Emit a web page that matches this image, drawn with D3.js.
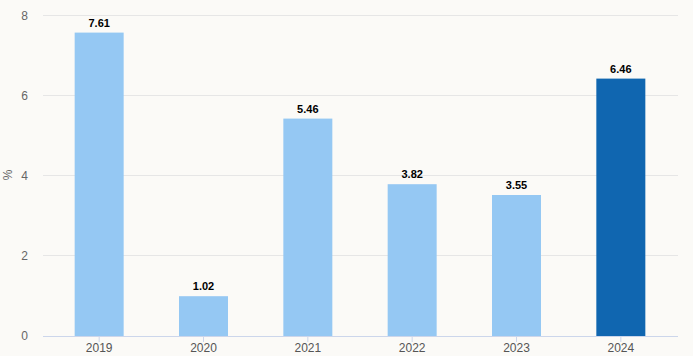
<!DOCTYPE html>
<html><head><meta charset="utf-8">
<script src="https://cdn.jsdelivr.net/npm/d3@7"></script>
<style>html,body{margin:0;padding:0;background:#fbfaf7;}svg{display:block;font-family:"Liberation Sans",Arial,sans-serif;}</style>
</head><body>
<script>
const categories = ["2019","2020","2021","2022","2023","2024"];
const values = [7.61, 1.02, 5.46, 3.82, 3.55, 6.46];
const yTicks = [0, 2, 4, 6, 8];
const yLabel = "%";

const W = 693, H = 356;
const svg = d3.select("body").append("svg").attr("width", W).attr("height", H);
svg.append("rect").attr("width", W).attr("height", H).attr("fill", "#fbfaf7");

const plotL = 43, plotR = 678;
const x = d3.scaleBand().domain(categories).range([47, 673]).paddingInner(0).paddingOuter(0);
const y = d3.scaleLinear().domain([0, 8]).range([336, 16]);
const barW = 49;

// gridlines
svg.append("g").selectAll("line").data(yTicks.filter(t => t > 0)).join("line")
  .attr("x1", plotL).attr("x2", plotR)
  .attr("y1", d => Math.round(y(d)) - 0.5).attr("y2", d => Math.round(y(d)) - 0.5)
  .attr("stroke", "#e6e6e6").attr("stroke-width", 1);

// y tick labels
svg.append("g").selectAll("text").data(yTicks).join("text")
  .attr("x", 28).attr("y", d => y(d) + 4)
  .attr("text-anchor", "end").attr("font-size", 12).attr("fill", "#666666")
  .text(d => d);

// y label
svg.append("text").attr("transform", "translate(12,175) rotate(-90)")
  .attr("text-anchor", "middle").attr("font-size", 12).attr("fill", "#666666").text(yLabel);

// bars
svg.append("g").selectAll("rect").data(values).join("rect")
  .attr("x", (d, i) => x(categories[i]) + x.bandwidth() / 2 - barW / 2)
  .attr("width", barW)
  .attr("y", d => y(d) + 1)
  .attr("height", d => y(0) - y(d) - 1)
  .attr("fill", (d, i) => i === categories.length - 1 ? "#1066b0" : "#95c8f3");

// value labels
svg.append("g").selectAll("text").data(values).join("text")
  .attr("x", (d, i) => x(categories[i]) + x.bandwidth() / 2)
  .attr("y", d => y(d) - 5)
  .attr("text-anchor", "middle").attr("font-size", 11).attr("font-weight", "bold").attr("fill", "#000")
  .text(d => d.toFixed(2));

// x axis
const xa = svg.append("g").attr("transform", "translate(0,336)")
  .call(d3.axisBottom(x).tickSize(6).tickSizeOuter(0));
xa.select(".domain").remove();
xa.selectAll(".tick line").attr("stroke", "#ccd6eb");
xa.selectAll(".tick text").attr("font-size", 12).attr("fill", "#555555").attr("dy", "0.6em")
  .style("font-family", "Liberation Sans, Arial, sans-serif");
svg.append("line").attr("x1", plotL).attr("x2", plotR).attr("y1", 336.5).attr("y2", 336.5)
  .attr("stroke", "#ccd6eb").attr("stroke-width", 1);
</script>
</body></html>
